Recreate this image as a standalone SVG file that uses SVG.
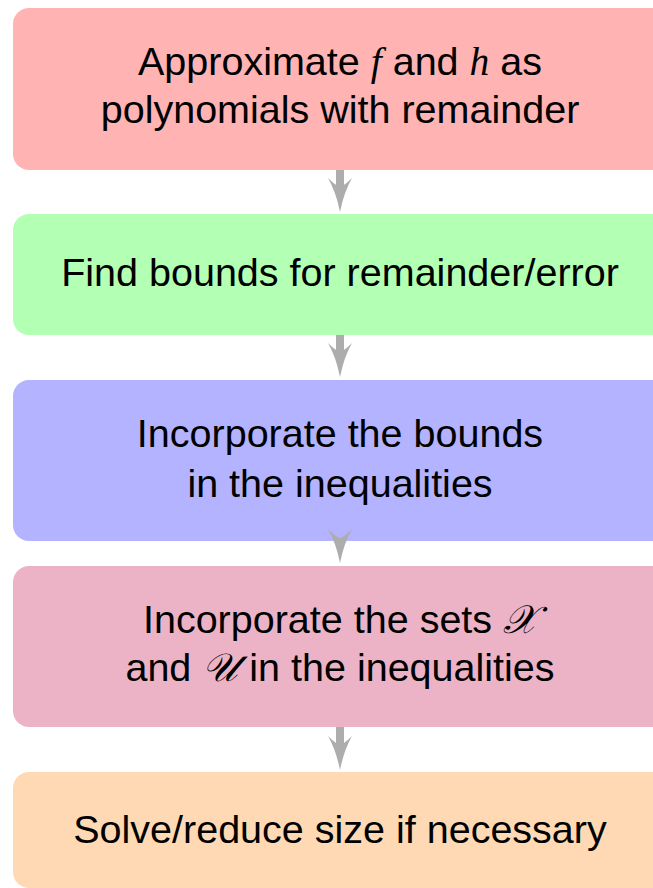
<svg xmlns="http://www.w3.org/2000/svg" xmlns:xlink="http://www.w3.org/1999/xlink" width="653" height="888" viewBox="0 0 653 888">
<style>
.box{stroke:none}
.t{font-family:"Liberation Sans","DejaVu Sans",sans-serif;font-size:39.5px;fill:#000;text-anchor:middle}
.m{font-family:"Liberation Serif","DejaVu Serif",serif;font-style:italic}
.cal{font-family:"DejaVu Serif","Noto Sans","Liberation Serif",serif;font-style:italic}
.shaft{stroke:#ADADAD;stroke-width:8;fill:none}
.head{fill:#ADADAD}
</style>
<defs>
<path id="head" d="M0,0 Q-4,-20 -12,-34 Q-4,-26 0,-25 Q4,-26 12,-34 Q4,-20 0,0 Z"/>
</defs>
<g id="n1"><rect class="box" x="13" y="8" width="654" height="162" rx="16" fill="#FFB3B3"/>
<text class="t" x="340" y="75">Approximate <tspan class="m">f</tspan> and <tspan class="m">h</tspan> as</text>
<text class="t" x="340" y="123">polynomials with remainder</text></g>
<g id="n2"><rect class="box" x="13" y="214" width="654" height="121" rx="16" fill="#B3FFB3"/>
<text class="t" x="340" y="286">Find bounds for remainder/error</text></g>
<g id="n3"><rect class="box" x="13" y="380" width="654" height="161" rx="16" fill="#B3B3FF"/>
<text class="t" x="340" y="447">Incorporate the bounds</text>
<text class="t" x="340" y="497">in the inequalities</text></g>
<g id="n4"><rect class="box" x="13" y="566" width="654" height="161" rx="16" fill="#ECB3C6"/>
<text class="t" x="340" y="633">Incorporate the sets <tspan class="cal">𝒳</tspan></text>
<text class="t" x="340" y="681">and <tspan class="cal">𝒰</tspan> in the inequalities</text></g>
<g id="n5"><rect class="box" x="13" y="772" width="654" height="116" rx="16" fill="#FFD9B3"/>
<text class="t" x="340" y="843">Solve/reduce size if necessary</text></g>
<g id="connectors">
<line class="shaft" x1="340" y1="170" x2="340" y2="190"/><use href="#head" class="head" x="340" y="212"/>
<line class="shaft" x1="340" y1="335" x2="340" y2="354"/><use href="#head" class="head" x="340" y="377"/>
<use href="#head" class="head" x="340" y="563"/>
<line class="shaft" x1="340" y1="727" x2="340" y2="747"/><use href="#head" class="head" x="340" y="770"/>
</g>
</svg>
